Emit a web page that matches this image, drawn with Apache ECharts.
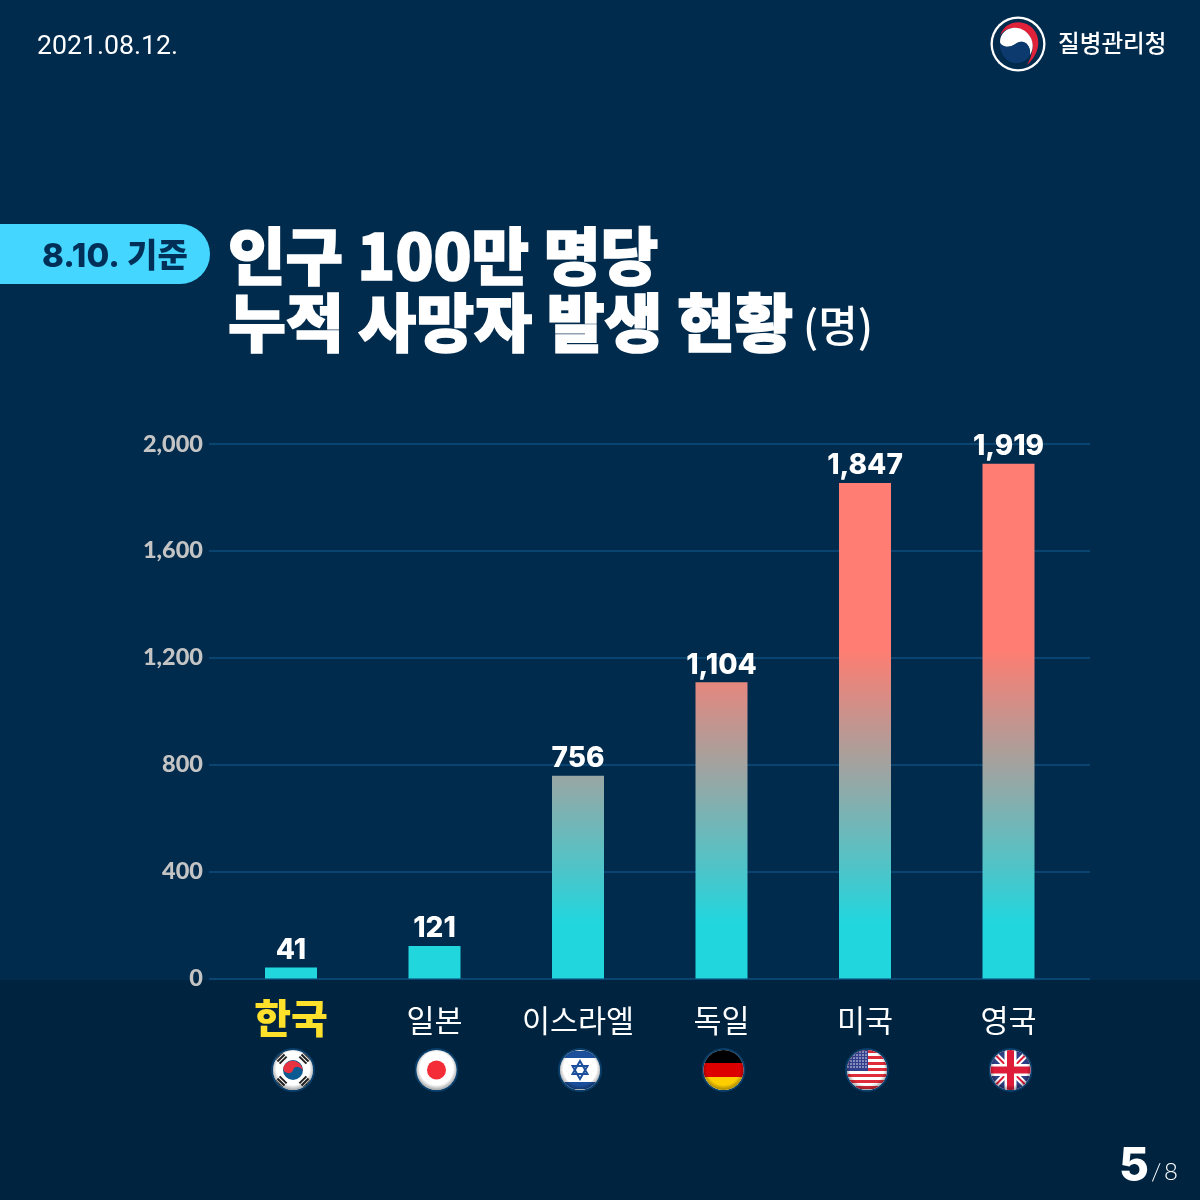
<!DOCTYPE html>
<html><head><meta charset="utf-8">
<style>html,body{margin:0;padding:0;background:#002b4d}#c{width:1200px;height:1200px}</style>
<script src="https://cdn.jsdelivr.net/npm/echarts@6/dist/echarts.min.js"></script>
</head><body><div id="c"></div>
<script>
const categories = ['한국','일본','이스라엘','독일','미국','영국'];
const deaths = [41,121,756,1104,1847,1919];
const yTicks = [0,400,800,1200,1600,2000];
const dateText = '2021.08.12.';
const agencyText = '질병관리청';
const pillText = '8.10. 기준';
const titleLine1 = '인구 100만 명당';
const titleLine2 = '누적 사망자 발생 현황';
const unitText = '(명)';

const gloss = '<defs><radialGradient id="g" cx="50%" cy="46%" r="52%"><stop offset="80%" stop-color="#000" stop-opacity="0"/><stop offset="100%" stop-color="#000" stop-opacity=".3"/></radialGradient><clipPath id="k"><circle cx="22" cy="22" r="20"/></clipPath></defs>';
const wrap = s => 'data:image/svg+xml;utf8,' + encodeURIComponent('<svg xmlns="http://www.w3.org/2000/svg" width="44" height="44" viewBox="0 0 44 44">' + gloss + '<circle cx="22" cy="22" r="22" fill="#0a3f6b"/><g clip-path="url(#k)"><rect width="44" height="44" fill="#fff"/>' + s + '<circle cx="22" cy="22" r="20" fill="url(#g)"/></g></svg>');
const bars = (cx,cy,rot)=>'<g transform="rotate('+rot+' '+cx+' '+cy+')" fill="#222"><rect x="'+(cx-5)+'" y="'+(cy-4)+'" width="10" height="2"/><rect x="'+(cx-5)+'" y="'+(cy-1)+'" width="10" height="2"/><rect x="'+(cx-5)+'" y="'+(cy+2)+'" width="10" height="2"/></g>';
let usStripes = '';
[0,1,2,3,4,5,6].forEach(i => { usStripes += '<rect x="0" y="'+(2+i*6)+'" width="44" height="3" fill="#df2c3a"/>'; });
let usStars = '';
[4,7,10,13,16,19].forEach(y => { [3,6,9,12,15,18,21].forEach(x => { usStars += '<circle cx="'+x+'" cy="'+y+'" r=".75" fill="#fff"/>'; }); });
const flags = [
  wrap(bars(10,10,-45)+bars(34,10,45)+bars(10,34,45)+bars(34,34,-45)+'<circle cx="22" cy="22" r="10" fill="#0b5a92"/><path d="M12.5 19 A10 10 0 0 1 31.5 25 A5 5 0 0 0 22 22 A5 5 0 0 1 12.5 19Z" fill="#e8323f"/>'),
  wrap('<circle cx="22" cy="22" r="9.5" fill="#f32c38"/>'),
  wrap('<rect y="3" width="44" height="7" fill="#1b4f9c"/><rect y="34" width="44" height="7" fill="#1b4f9c"/><path d="M22 13 L29.5 26 H14.5Z M22 31 L14.5 18 H29.5Z" fill="none" stroke="#1b4f9c" stroke-width="2"/>'),
  wrap('<rect width="44" height="15" fill="#000"/><rect y="15" width="44" height="14" fill="#dd0000"/><rect y="29" width="44" height="15" fill="#ffce00"/>'),
  wrap(usStripes+'<rect width="23" height="23" fill="#323f8c"/>'+usStars),
  wrap('<rect width="44" height="44" fill="#2f3f85"/><path d="M0 0 L44 44 M44 0 L0 44" stroke="#fff" stroke-width="6"/><path d="M0 0 L44 44 M44 0 L0 44" stroke="#de1c3a" stroke-width="2"/><rect x="16" width="12" height="44" fill="#fff"/><rect y="16" width="44" height="12" fill="#fff"/><rect x="18.5" width="7" height="44" fill="#de1c3a"/><rect y="18.5" width="44" height="7" fill="#de1c3a"/>')
];
const logo = 'data:image/svg+xml;utf8,' + encodeURIComponent('<svg xmlns="http://www.w3.org/2000/svg" width="56" height="56" viewBox="0 0 56 56"><circle cx="28" cy="28" r="27.5" fill="#fff"/><circle cx="28" cy="28" r="25.2" fill="#002b4d"/><path d="M10 20 C14 6 30 3 40 10 C52 19 51 37 37 49 C45 36 45 21 34 15 C26 10 15 11 10 20Z" fill="#e0213a"/><path d="M10 26 C10 12 26 8 35 15 C43 21 45 31 40 39 C41 29 34 23 27 27 C22 31 16 32 12 29 C11 28.5 10 27.5 10 26Z" fill="#fff"/><path d="M10 26 C10 27.5 11 28.5 12 29 C16 32 22 31 27 27 C34 23 41 29 40 39 C37 45 30 48 24 47 C14 45 9 35 10 26Z" fill="#0d3a6e"/></svg>');

const KR = '"Noto Sans CJK KR"';
const NUM = 'Inter, "Noto Sans CJK KR"';
const chart = echarts.init(document.getElementById('c'), null, {renderer:'canvas', width:1200, height:1200});
const txt = (x,y,text,size,weight,fill,font,bold) => ({type:'text', x, y, silent:true, style:{text, fontSize:size, fontWeight:weight, fill, fontFamily:font||KR, textVerticalAlign:'middle', textAlign:'left', stroke:bold?fill:null, lineWidth:bold||0}});
const barGradient = {type:'linear', global:true, x:0, y:923, x2:0, y2:650, colorStops:[{offset:0,color:'#22d6de'},{offset:1,color:'#ff7d72'}]};

chart.setOption({
  backgroundColor:'#002b4d',
  animation:false,
  grid:[
    {left:209, right:110, top:444, bottom:221.5},
    {left:219.25, width:861, top:442, bottom:221.5}
  ],
  xAxis:[
    {type:'category', gridIndex:0, show:false, data:categories},
    {type:'category', gridIndex:1, data:categories, axisLine:{show:false}, axisTick:{show:false},
     axisLabel:{margin:22, interval:0, formatter:(v,i)=> i===0 ? '{hl|'+v+'}' : '{n|'+v+'}',
       rich:{hl:{fontSize:40,fontWeight:900,fontFamily:KR,color:'#ffe12b',height:40,lineHeight:34},
             n:{fontSize:30.5,fontFamily:KR,color:'#ffffff',height:40,lineHeight:40}}}}
  ],
  yAxis:[
    {type:'value', gridIndex:0, min:0, max:2000, interval:400, axisLine:{show:false}, axisTick:{show:false},
     axisLabel:{margin:6, padding:[2,0,0,0], fontSize:23.5, fontWeight:900, color:'#c4c4c4', fontFamily:'Lato', formatter:v=>v.toLocaleString('en-US')},
     splitLine:{show:true, lineStyle:{color:'#0a4470', width:2}}},
    {type:'value', gridIndex:1, min:0, max:2000, interval:400, show:false, splitLine:{show:false}}
  ],
  series:[{
    type:'bar', xAxisIndex:1, yAxisIndex:1, data:deaths, barWidth:52, z:3,
    itemStyle:{color:barGradient},
    label:{show:true, position:'top', distance:3, color:'#fff', fontSize:28, fontWeight:800, fontFamily:NUM, formatter:p=>p.value.toLocaleString('en-US')}
  }]
});

const flagEls = categories.map((c,i)=>{
  const px = chart.convertToPixel({xAxisIndex:1}, c);
  return {type:'image', x:px+2-22, y:1048, silent:true, style:{image:flags[i], width:44, height:44}};
});
chart.setOption({graphic:{elements:[
  {type:'rect', z:-10, silent:true, shape:{x:0,y:980,width:1200,height:220}, style:{fill:'#002440'}},
  txt(37,47,dateText,26.7,400,'#fff','Roboto'),
  {type:'image', x:990, y:16, silent:true, style:{image:logo,width:56,height:56}},
  txt(1058,43,agencyText,23.6,500,'#fff'),
  {type:'rect', silent:true, shape:{x:-40,y:224,width:250,height:60,r:30}, style:{fill:'#45d6ff'}},
  txt(42,257,pillText,33,800,'#003058',NUM),
  txt(228,256,titleLine1,62.5,900,'#fff',KR,1.6),
  txt(228,322,titleLine2,63,900,'#fff',KR,1.6),
  txt(803,326,unitText,43,500,'#fff'),
  txt(1119,1167,'5',46,800,'#fff',NUM),
  txt(1151,1172,'/',24,300,'#fff','Lato'),
  txt(1164,1172,'8',24,300,'#fff','Lato'),
  ...flagEls
]}});
</script></body></html>
